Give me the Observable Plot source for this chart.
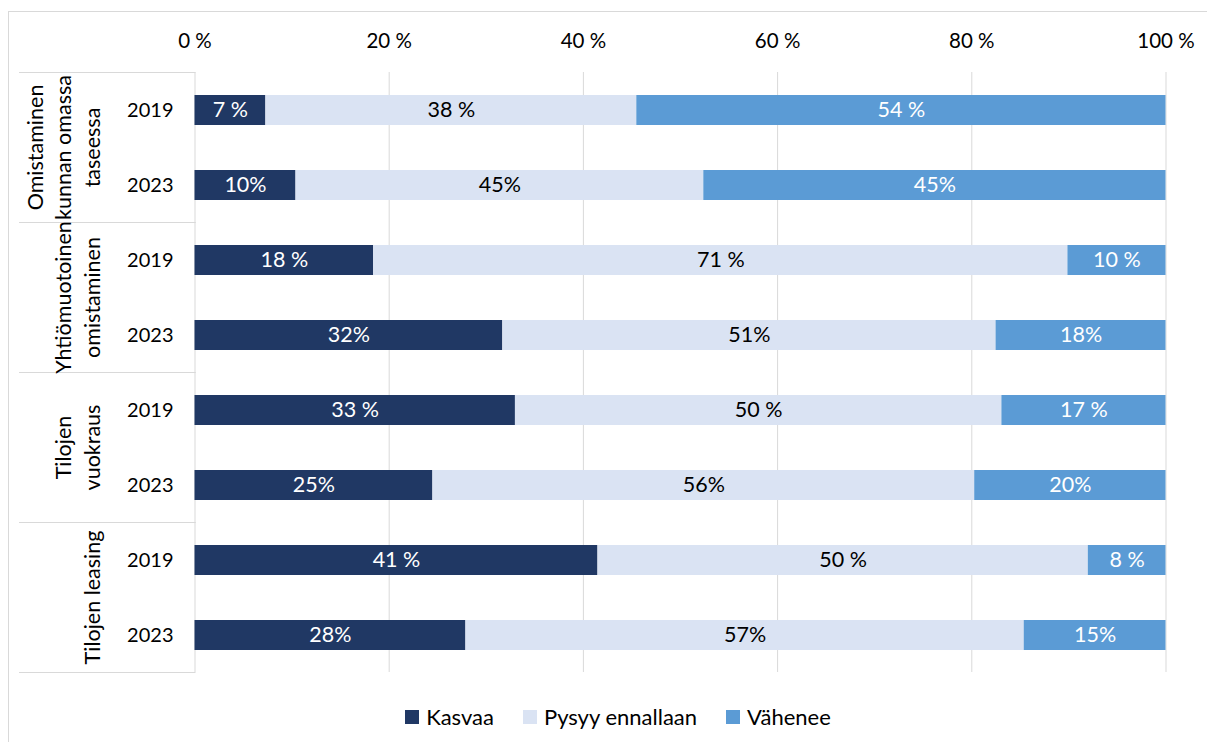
<!DOCTYPE html>
<html><head><meta charset="utf-8">
<script src="https://cdn.jsdelivr.net/npm/d3@7"></script>
<script src="https://cdn.jsdelivr.net/npm/@observablehq/plot@0.6"></script>
<style>
html,body{margin:0;padding:0;background:#fff;overflow:hidden}
#wrap{position:relative;width:1207px;height:742px;font-family:Lato,sans-serif;overflow:hidden}
#border{position:absolute;left:8px;top:11px;width:1400px;height:900px;border:1px solid #d9d9d9;box-sizing:border-box}
#chart{position:absolute;left:0;top:0}
#legend{position:absolute;top:703px;left:0;width:1236px;display:flex;justify-content:center;gap:29px;font-size:22px;color:#000;line-height:28px}
.item{display:flex;align-items:center;gap:7px}
.sw{width:14px;height:14px;display:inline-block}
</style></head>
<body><div id="wrap"><div id="border"></div><div id="chart"></div><div id="legend"></div></div>
<script>
const groups = ["Omistaminen\nkunnan omassa\ntaseessa", "Yhtiömuotoinen\nomistaminen", "Tilojen\nvuokraus", "Tilojen leasing"];
const years = ["2019", "2023"];
const categories = ["Kasvaa", "Pysyy ennallaan", "Vähenee"];
const colors = ["#203864", "#DAE3F3", "#5B9BD5"];
// rows: group1 2019, group1 2023, group2 2019, ...
const kasvaa  = [7.3, 10.4, 18.4, 31.7, 33.0, 24.5, 41.5, 27.9];
const pysyy   = [38.2, 42.0, 71.5, 50.8, 50.1, 55.8, 50.5, 57.5];
const vahenee = [54.5, 47.6, 10.1, 17.5, 16.9, 19.7, 8.0, 14.6];
const kasvaaLabels  = ["7 %", "10%", "18 %", "32%", "33 %", "25%", "41 %", "28%"];
const pysyyLabels   = ["38 %", "45%", "71 %", "51%", "50 %", "56%", "50 %", "57%"];
const vaheneeLabels = ["54 %", "45%", "10 %", "18%", "17 %", "20%", "8 %", "15%"];
const xTicks = [0, 20, 40, 60, 80, 100];

const series = [kasvaa, pysyy, vahenee];
const seriesLabels = [kasvaaLabels, pysyyLabels, vaheneeLabels];
const data = [];
groups.forEach((g, gi) => years.forEach((y, yi) => {
  const r = gi * 2 + yi;
  categories.forEach((c, ci) => data.push({group: g, year: y, category: c, value: series[ci][r], label: seriesLabels[ci][r]}));
}));

const grid = "#d9d9d9";
const plot = Plot.plot({
  width: 1207, height: 690,
  marginLeft: 194.5, marginRight: 41.5, marginTop: 72, marginBottom: 18,
  style: {fontFamily: "Lato, sans-serif", fontSize: "20px", color: "#000", background: "transparent", overflow: "visible"},
  x: {domain: [0, 100], label: null},
  y: {domain: years, paddingInner: 0.6, paddingOuter: 0.3, label: null},
  fy: {domain: groups, padding: 0, axis: null, label: null},
  color: {domain: categories, range: colors},
  marks: [
    Plot.gridX(xTicks, {stroke: grid, strokeOpacity: 1}),
    Plot.frame({anchor: "top", stroke: grid, strokeOpacity: 1, insetLeft: -175.5, insetRight: 971}),
    Plot.frame({anchor: "bottom", stroke: grid, strokeOpacity: 1, insetLeft: -175.5, insetRight: 971}),
    Plot.barX(data, {x: "value", y: "year", fy: "group", fill: "category"}),
    Plot.text(data, Plot.stackX({x: "value", y: "year", fy: "group", z: "category", text: "label", fontSize: 21.5,
      fill: d => d.category === "Pysyy ennallaan" ? "black" : "white"})),
    Plot.text(groups, {fy: d => d, text: d => d, frameAnchor: "left", dx: -95, rotate: -90, fontSize: 21.5,
      textAnchor: "middle", lineAnchor: "bottom", lineHeight: 1.33, fill: "black"}),
    Plot.axisY({tickSize: 0, tickPadding: 21.5, label: null}),
    Plot.axisX(xTicks, {anchor: "top", tickSize: 0, tickPadding: 25, label: null, fontSize: 20.5, tickFormat: d => d + " %"})
  ]
});
document.getElementById("chart").appendChild(plot);

const legend = d3.select("#legend");
categories.forEach((c, i) => {
  const it = legend.append("div").attr("class", "item");
  it.append("span").attr("class", "sw").style("background", colors[i]);
  it.append("span").text(c);
});
</script>
</body></html>
